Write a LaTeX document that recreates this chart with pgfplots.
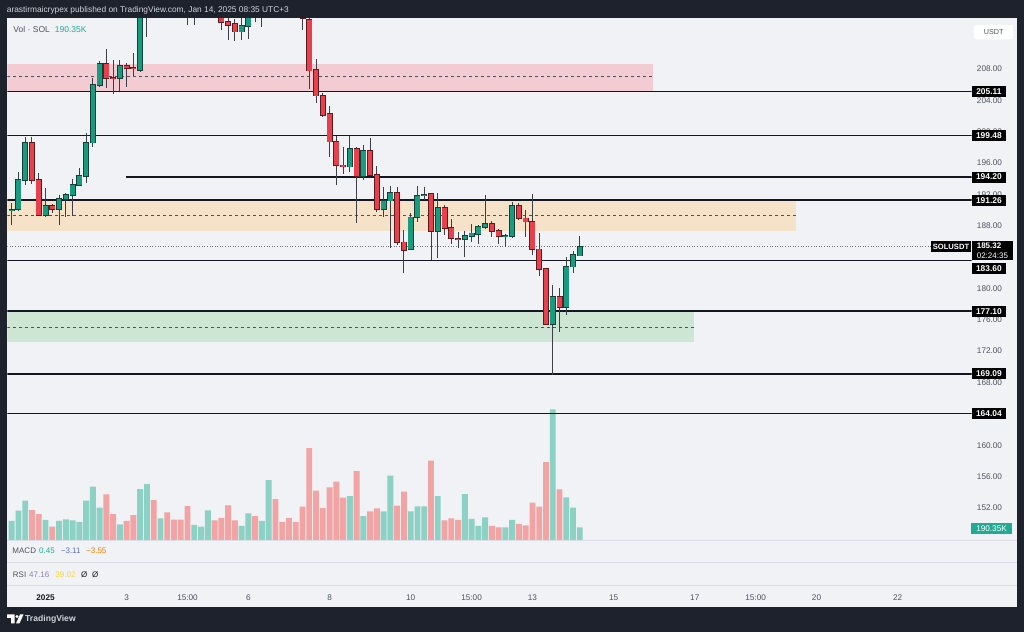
\documentclass[border=0pt]{standalone}
\usepackage{pgfplots}
\pgfplotsset{compat=1.18}
\usepackage{pgfplotstable}
\usepackage{fontspec}
\setmainfont{Liberation Sans}

\definecolor{frame}{HTML}{1E222D}
\definecolor{panel}{HTML}{F0F2F6}
\definecolor{sep}{HTML}{DADDE3}
\definecolor{upc}{HTML}{199B80}
\definecolor{dnc}{HTML}{E8414E}
\definecolor{upedge}{HTML}{163F37}
\definecolor{dnedge}{HTML}{5E1A1F}
\definecolor{wickc}{HTML}{3C3F47}
\definecolor{volup}{HTML}{8DD0C4}
\definecolor{voldn}{HTML}{F2A3A4}
\definecolor{zpink}{HTML}{F3CBD2}
\definecolor{zorange}{HTML}{F6E2C8}
\definecolor{zgreen}{HTML}{CDE6D4}
\definecolor{lvl}{HTML}{131722}
\definecolor{scaletext}{HTML}{50535E}
\definecolor{tvteal}{HTML}{22AB94}
\definecolor{macdblue}{HTML}{5B6FD6}
\definecolor{macdorange}{HTML}{F57C00}
\definecolor{rsipurple}{HTML}{8E7CC3}
\definecolor{rsiyellow}{HTML}{F5D63D}
\definecolor{hdr}{HTML}{D1D4DC}

% SOLUSDT 4h candles: index, open, high, low, close, volume (K)
\pgfplotstableread{
i o h l c v
0 190.00 190.90 188.09 190.00 285
1 190.09 194.89 189.81 193.83 440
2 193.83 199.35 193.19 198.59 590
3 198.51 199.35 193.32 193.83 450
4 193.83 194.76 189.30 189.36 390
5 189.36 192.77 189.15 190.51 300
6 190.51 190.77 189.62 190.09 200
7 190.09 191.92 188.09 191.37 285
8 191.37 192.21 189.15 191.92 310
9 191.92 193.92 189.24 193.19 295
10 193.19 195.32 193.48 194.34 270
11 194.34 199.79 193.48 198.59 590
12 198.59 206.80 198.08 205.95 800
13 205.90 209.01 205.65 208.59 485
14 208.59 210.50 205.53 206.80 685
15 206.90 209.14 204.76 206.86 390
16 206.80 209.14 205.22 208.37 235
17 208.37 208.71 205.73 208.08 285
18 208.10 210.07 207.09 208.06 375
19 207.86 216.00 207.60 215.50 765
20 215.50 218.00 212.10 217.00 840
21 217.00 218.50 214.80 216.00 600
22 216.00 218.00 215.00 217.50 325
23 217.50 218.50 215.50 216.80 415
24 216.80 217.50 215.00 216.00 305
25 216.00 217.00 214.60 215.20 305
26 215.20 216.30 213.65 214.90 510
27 214.90 216.50 213.55 215.80 225
28 215.80 217.50 215.00 216.80 200
29 216.80 218.60 216.00 217.60 445
30 217.60 218.00 214.80 215.50 295
31 215.50 216.00 213.00 214.00 330
32 214.00 214.60 211.70 213.60 520
33 213.73 214.30 211.56 212.75 295
34 212.75 214.80 211.70 213.50 210
35 213.50 216.00 211.80 215.20 400
36 215.20 216.00 214.00 214.90 360
37 214.90 216.80 213.40 216.00 285
38 216.00 219.00 215.00 218.00 900
39 218.00 219.00 216.00 217.00 615
40 217.00 217.60 215.50 216.20 270
41 216.20 216.80 214.80 215.50 330
42 215.50 216.20 214.60 215.00 270
43 215.20 215.80 212.90 214.50 500
44 214.24 214.50 205.40 207.77 1380
45 207.86 209.22 203.61 204.58 740
46 204.58 204.89 201.90 202.12 480
47 202.21 203.27 196.80 198.71 790
48 198.71 199.44 193.19 195.74 875
49 195.70 198.08 194.59 195.64 635
50 195.53 199.44 194.89 197.78 660
51 197.78 198.08 188.38 194.34 1035
52 194.34 198.29 193.83 197.53 360
53 197.53 199.15 194.30 194.47 430
54 194.47 195.61 189.79 190.09 475
55 190.09 192.97 189.15 191.19 430
56 191.19 193.06 185.12 192.21 965
57 192.21 192.90 185.54 185.88 515
58 185.88 187.45 182.00 184.90 725
59 184.99 189.58 184.90 189.07 430
60 189.07 193.06 188.51 191.79 505
61 191.90 192.97 191.28 191.92 505
62 192.04 192.13 183.62 187.32 1190
63 187.32 192.13 183.84 190.22 660
64 190.22 190.64 186.81 187.67 295
65 187.67 188.82 185.67 186.39 325
66 186.32 187.23 185.12 186.28 300
67 186.27 187.36 184.05 186.72 690
68 186.69 188.22 185.96 187.03 315
69 186.94 188.09 185.67 187.80 210
70 187.80 191.92 187.54 188.18 340
71 188.18 188.64 186.60 187.32 210
72 187.32 187.54 185.67 186.69 190
73 186.68 186.94 185.24 186.70 190
74 186.69 191.06 186.39 190.51 300
75 190.51 190.86 188.73 188.94 240
76 188.94 190.00 186.60 188.51 220
77 188.51 192.04 184.26 184.99 560
78 184.99 187.03 181.58 182.48 500
79 182.48 182.57 175.33 175.42 1170
80 175.42 180.44 168.96 178.87 1960
81 178.87 180.02 174.48 177.59 760
82 177.59 183.97 176.61 182.77 640
83 182.77 184.77 181.93 184.26 485
84 184.17 186.72 184.10 185.32 190.35
}\candles

\pgfplotsset{
  ebar/.style n args={2}{mark=none, draw=none,
    error bars/.cd, y dir=both, y explicit, error mark=none,
    error bar style={draw=#1, line width=#2, solid}},
}
\tikzset{
  lvlbox/.style={fill=black, text=white, font=\bfseries\fontsize{8.4bp}{9bp}\selectfont,
    inner xsep=1bp, inner ysep=0bp, minimum width=34bp, minimum height=11bp, anchor=west},
}

\begin{document}
\begin{tikzpicture}
\useasboundingbox (0,0) rectangle (1024bp,632bp);
\fill[frame] (0,0) rectangle (1024bp,632bp);
\begin{scope}[x=1bp, y=-1bp, yshift=632bp]
  \fill[panel] (7.3,18.3) rectangle (1016.7,606.7);
  \draw[sep, line width=0.8bp] (7.3,540) -- (1016.7,540);
  \draw[sep, line width=0.8bp] (7.3,562) -- (1016.7,562);
  \draw[sep, line width=0.8bp] (7.3,585) -- (1016.7,585);
\end{scope}

% volume
\begin{axis}[
  at={(7.3bp,92bp)}, anchor=south west,
  scale only axis, width=964.2bp, height=521.7bp,
  xmin=-0.65, xmax=141.92, ymin=0, ymax=7826,
  hide axis, ybar, bar width=5.9bp,
]
\addplot[fill=volup, draw=none, bar shift=0pt]
  table[x=i, y expr={\thisrow{c}>=\thisrow{o} ? \thisrow{v} : nan}] {\candles};
\addplot[fill=voldn, draw=none, bar shift=0pt]
  table[x=i, y expr={\thisrow{c}<\thisrow{o} ? \thisrow{v} : nan}] {\candles};
\end{axis}

% price
\begin{axis}[
  at={(7.3bp,92bp)}, anchor=south west,
  scale only axis, width=964.2bp, height=521.7bp,
  xmin=-0.65, xmax=141.92, ymin=147.91, ymax=214.45,
  clip mode=individual,
  axis line style={draw=none}, major tick length=0pt,
  ytick={152,156,160,168,172,176,180,188,192,196,200,204,208},
  ytick pos=right, yticklabel pos=right,
  yticklabel style={anchor=center, xshift=18bp, text=scaletext,
    font=\fontsize{8.2bp}{9bp}\selectfont,
    /pgf/number format/fixed, /pgf/number format/fixed zerofill,
    /pgf/number format/precision=2, /pgf/number format/assume math mode=true},
  xtick={5,17,26,35,47,59,68,77,89,101,110,119,131},
  xticklabels={\textcolor{lvl}{\bfseries 2025},3,15:00,6,8,10,15:00,13,15,17,15:00,20,22},
  xticklabel style={anchor=center, yshift=-57.3bp, text=scaletext,
    font=\fontsize{8.2bp}{9bp}\selectfont},
]
% zones
\addplot[fill=zpink, draw=none] coordinates {(-0.65,205.11)(94.8,205.11)(94.8,208.63)(-0.65,208.63)} -- cycle;
\addplot[fill=zorange, draw=none] coordinates {(-0.65,187.32)(116.0,187.32)(116.0,191.26)(-0.65,191.26)} -- cycle;
\addplot[fill=zgreen, draw=none] coordinates {(-0.65,173.20)(100.9,173.20)(100.9,177.10)(-0.65,177.10)} -- cycle;
\addplot[lvl!75, line width=0.8bp, dash pattern=on 3bp off 3bp] coordinates {(-0.65,207.06)(94.8,207.06)};
\addplot[lvl!75, line width=0.8bp, dash pattern=on 3bp off 3bp] coordinates {(-0.65,189.35)(116.0,189.35)};
\addplot[lvl!75, line width=0.8bp, dash pattern=on 3bp off 3bp] coordinates {(-0.65,175.08)(100.9,175.08)};
% levels
\addplot[lvl, line width=1.3bp] coordinates {(-0.65,205.11)(141.92,205.11)};
\addplot[lvl, line width=1.3bp] coordinates {(-0.65,199.48)(141.92,199.48)};
\addplot[lvl, line width=1.3bp] coordinates {(16.9,194.20)(141.92,194.20)};
\addplot[lvl, line width=1.3bp] coordinates {(-0.65,191.26)(141.92,191.26)};
\addplot[lvl, line width=1.3bp] coordinates {(-0.65,183.60)(141.92,183.60)};
\addplot[lvl, line width=1.3bp] coordinates {(-0.65,177.10)(141.92,177.10)};
\addplot[lvl, line width=1.3bp] coordinates {(-0.65,169.09)(141.92,169.09)};
\addplot[lvl, line width=1.3bp] coordinates {(-0.65,164.04)(141.92,164.04)};
\addplot[black!55, line width=0.6bp, dotted] coordinates {(-0.65,185.32)(141.92,185.32)};
% candles
\addplot[ebar={wickc}{1bp}]
  table[x=i, y expr={(\thisrow{h}+\thisrow{l})/2}, y error expr={(\thisrow{h}-\thisrow{l})/2}] {\candles};
\addplot[ebar={upedge}{6bp}]
  table[x=i, y expr={\thisrow{c}>=\thisrow{o} ? (\thisrow{c}+\thisrow{o})/2 : nan},
        y error expr={abs(\thisrow{c}-\thisrow{o})/2+0.1}] {\candles};
\addplot[ebar={upc}{4.5bp}]
  table[x=i, y expr={\thisrow{c}>=\thisrow{o} ? (\thisrow{c}+\thisrow{o})/2 : nan},
        y error expr={max(abs(\thisrow{c}-\thisrow{o})/2,0.02)}] {\candles};
\addplot[ebar={dnedge}{6bp}]
  table[x=i, y expr={\thisrow{c}<\thisrow{o} ? (\thisrow{c}+\thisrow{o})/2 : nan},
        y error expr={abs(\thisrow{c}-\thisrow{o})/2+0.1}] {\candles};
\addplot[ebar={dnc}{4.5bp}]
  table[x=i, y expr={\thisrow{c}<\thisrow{o} ? (\thisrow{c}+\thisrow{o})/2 : nan},
        y error expr={max(abs(\thisrow{c}-\thisrow{o})/2,0.02)}] {\candles};
% price scale tags
\node[lvlbox] at (axis cs:141.95,205.11) {205.11};
\node[lvlbox] at (axis cs:141.95,199.48) {199.48};
\node[lvlbox] at (axis cs:141.95,194.20) {194.20};
\node[lvlbox] at (axis cs:141.95,191.26) {191.26};
\node[lvlbox, yshift=-8.2bp] at (axis cs:141.95,183.60) {183.60};
\node[lvlbox] at (axis cs:141.95,177.10) {177.10};
\node[lvlbox] at (axis cs:141.95,169.09) {169.09};
\node[lvlbox] at (axis cs:141.95,164.04) {164.04};
\node[fill=black, text=white, font=\bfseries\fontsize{7.6bp}{9bp}\selectfont, anchor=east,
  inner xsep=2bp, inner ysep=0bp, minimum height=11.6bp] at (axis cs:141.9,185.32) {SOLUSDT};
\node[fill=black, text=white, anchor=north west, align=left, inner xsep=3bp, inner ysep=1.5bp,
  minimum width=41bp, font=\fontsize{8bp}{10bp}\selectfont, yshift=5.8bp]
  at (axis cs:141.95,185.32) {\textbf{185.32}\\02:24:35};
\end{axis}

\begin{scope}[x=1bp, y=-1bp, yshift=632bp]
  \node[anchor=west, inner sep=0, text=hdr, font=\fontsize{8.35bp}{10bp}\selectfont]
    at (6.7,10) {arastirmaicrypex published on TradingView.com, Jan 14, 2025 08:35 UTC+3};
  \node[anchor=west, inner sep=0, font=\fontsize{8.5bp}{10bp}\selectfont]
    at (13.3,29.3) {\textcolor{scaletext}{Vol · SOL}\hspace{5bp}\textcolor{tvteal}{190.35K}};
  \node[anchor=west, inner sep=0, font=\fontsize{8bp}{10bp}\selectfont, text=scaletext] at (12.3,551) {MACD};
  \node[anchor=west, inner sep=0, font=\fontsize{8bp}{10bp}\selectfont, text=tvteal] at (39,551) {0.45};
  \node[anchor=west, inner sep=0, font=\fontsize{8bp}{10bp}\selectfont, text=macdblue] at (60.7,551) {−3.11};
  \node[anchor=west, inner sep=0, font=\fontsize{8bp}{10bp}\selectfont, text=macdorange] at (86,551) {−3.55};
  \node[anchor=west, inner sep=0, font=\fontsize{8bp}{10bp}\selectfont, text=scaletext] at (12.7,575) {RSI};
  \node[anchor=west, inner sep=0, font=\fontsize{8bp}{10bp}\selectfont, text=rsipurple] at (29,575) {47.16};
  \node[anchor=west, inner sep=0, font=\fontsize{8bp}{10bp}\selectfont, text=rsiyellow] at (55.3,575) {39.02};
  \node[anchor=west, inner sep=0, font=\fontsize{8bp}{10bp}\selectfont, text=lvl] at (81,575) {Ø};
  \node[anchor=west, inner sep=0, font=\fontsize{8bp}{10bp}\selectfont, text=lvl] at (92,575) {Ø};
  \node[fill=white, text=scaletext, font=\fontsize{7.2bp}{9bp}\selectfont, minimum width=39bp,
    minimum height=14.3bp, inner sep=0, rounded corners=1.5bp] at (993.7,32.2) {USDT};
  \node[fill=tvteal, text=white, font=\fontsize{8.2bp}{9bp}\selectfont, minimum width=40.7bp,
    minimum height=11.3bp, inner sep=0, anchor=west] at (971,528.3) {190.35K};
  % TradingView logo
  \fill[white] (7,614.5) -- (14.5,614.5) -- (14.5,623.5) -- (11,623.5) -- (11,618) -- (7,618) -- cycle;
  \fill[white] (17,616.5) circle (1.7);
  \fill[white] (20,614.5) -- (23.5,614.5) -- (19.5,623.5) -- (16,623.5) -- cycle;
  \node[anchor=west, inner sep=0, text=hdr, font=\bfseries\fontsize{8.6bp}{10bp}\selectfont]
    at (25,619) {TradingView};
\end{scope}
\end{tikzpicture}
\end{document}
